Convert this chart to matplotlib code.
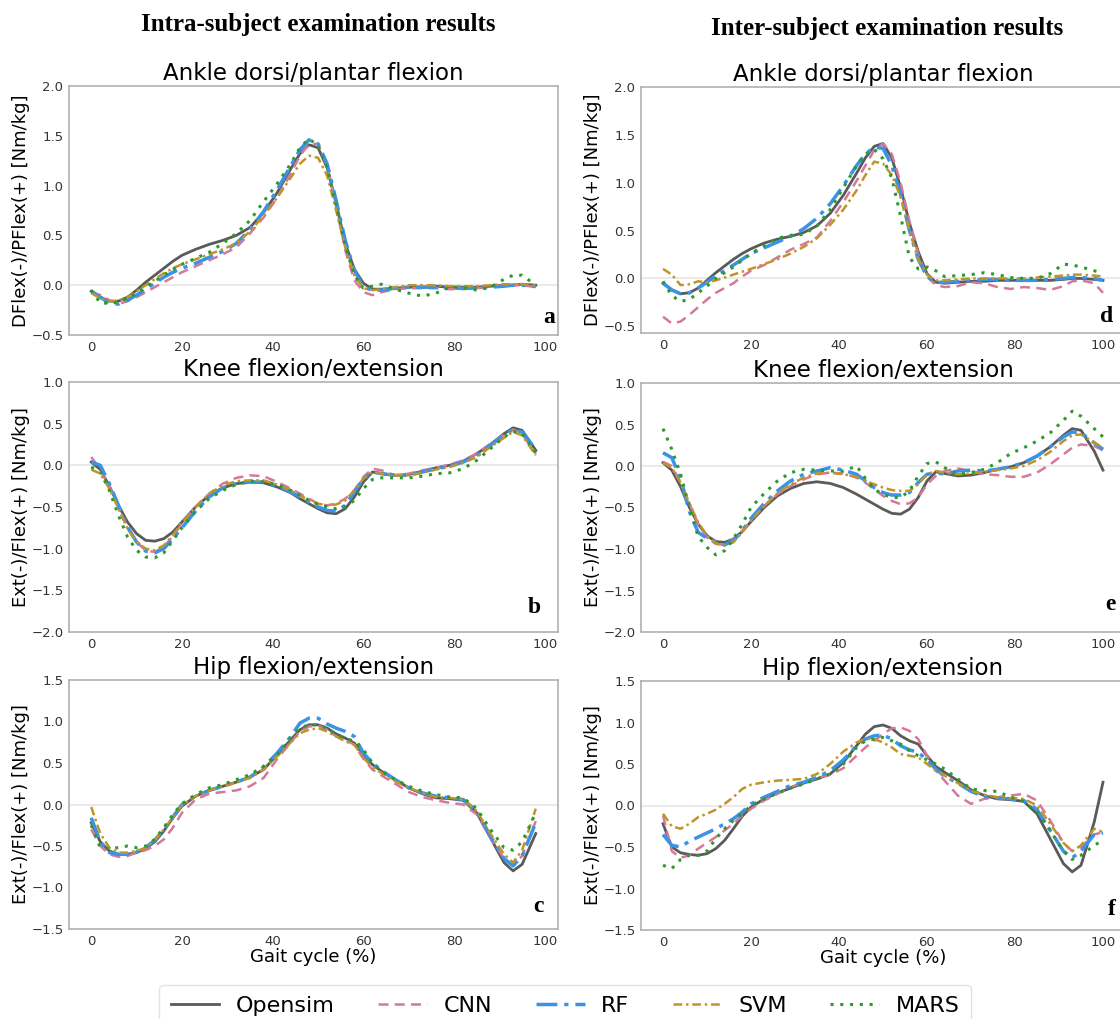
import matplotlib.pyplot as plt
import numpy as np

# Gait cycle samples (%)
x_intra = [0, 2, 4, 6, 8, 10, 12, 14, 16, 18, 20, 23, 26, 29, 32, 35, 38, 41, 44, 46,
           48, 50, 52, 54, 56, 58, 60, 62, 64, 67, 70, 73, 76, 79, 82, 85, 88, 91, 93, 95, 98]
x_inter = x_intra + [100]

methods = ["Opensim", "CNN", "RF", "SVM", "MARS"]

# ---- Intra-subject: ankle ----
ankle_intra = {
    "Opensim": [-0.06, -0.12, -0.16, -0.16, -0.12, -0.05, 0.03, 0.10, 0.17, 0.24, 0.30, 0.36, 0.41, 0.45, 0.50,
                0.58, 0.73, 0.93, 1.17, 1.32, 1.41, 1.38, 1.18, 0.82, 0.42, 0.16, 0.02, -0.04, -0.04, -0.03,
                -0.02, -0.02, -0.01, -0.02, -0.02, -0.02, -0.01, 0.00, 0.00, 0.01, 0.00],
    "CNN": [-0.07, -0.10, -0.15, -0.19, -0.16, -0.12, -0.07, -0.02, 0.03, 0.08, 0.13, 0.19, 0.25, 0.31, 0.38,
            0.52, 0.68, 0.88, 1.12, 1.30, 1.42, 1.42, 1.20, 0.80, 0.35, 0.05, -0.07, -0.10, -0.07, -0.04,
            -0.03, -0.03, -0.03, -0.04, -0.04, -0.03, -0.02, 0.00, 0.00, 0.00, -0.02],
    "RF": [-0.06, -0.12, -0.18, -0.19, -0.15, -0.10, -0.04, 0.02, 0.08, 0.13, 0.17, 0.22, 0.28, 0.34, 0.42,
           0.56, 0.74, 0.96, 1.20, 1.36, 1.46, 1.42, 1.22, 0.85, 0.45, 0.15, -0.02, -0.05, -0.05, -0.03,
           -0.02, -0.02, -0.02, -0.03, -0.03, -0.03, -0.02, -0.01, 0.00, 0.00, -0.01],
    "SVM": [-0.08, -0.13, -0.16, -0.16, -0.12, -0.06, 0.00, 0.06, 0.12, 0.17, 0.21, 0.26, 0.31, 0.36, 0.42,
            0.54, 0.70, 0.88, 1.08, 1.22, 1.30, 1.28, 1.10, 0.75, 0.38, 0.10, -0.03, -0.05, -0.04, -0.02,
            0.00, 0.00, 0.00, -0.01, -0.01, -0.01, 0.00, 0.01, 0.01, 0.01, 0.00],
    "MARS": [-0.05, -0.18, -0.18, -0.17, -0.13, -0.08, -0.02, 0.04, 0.10, 0.16, 0.21, 0.27, 0.33, 0.42, 0.52,
             0.65, 0.84, 1.02, 1.22, 1.38, 1.47, 1.40, 1.18, 0.80, 0.40, 0.10, -0.03, -0.01, 0.01, -0.04,
             -0.08, -0.11, -0.08, -0.02, -0.02, -0.05, -0.02, 0.06, 0.10, 0.10, 0.00],
}

# ---- Intra-subject: knee ----
knee_intra = {
    "Opensim": [0.04, -0.05, -0.25, -0.48, -0.68, -0.82, -0.90, -0.91, -0.88, -0.80, -0.68, -0.50, -0.36, -0.27,
                -0.22, -0.20, -0.21, -0.26, -0.33, -0.40, -0.46, -0.52, -0.57, -0.58, -0.52, -0.38, -0.20, -0.08,
                -0.10, -0.12, -0.11, -0.07, -0.03, 0.00, 0.05, 0.14, 0.25, 0.38, 0.45, 0.42, 0.18],
    "CNN": [0.10, -0.05, -0.25, -0.50, -0.75, -0.92, -1.02, -1.04, -0.98, -0.85, -0.70, -0.50, -0.34, -0.22,
            -0.15, -0.12, -0.13, -0.20, -0.28, -0.34, -0.40, -0.46, -0.48, -0.46, -0.40, -0.30, -0.14, -0.04,
            -0.06, -0.12, -0.10, -0.06, -0.03, 0.01, 0.06, 0.14, 0.26, 0.37, 0.43, 0.38, 0.14],
    "RF": [0.04, 0.00, -0.22, -0.48, -0.74, -0.92, -1.03, -1.05, -1.00, -0.88, -0.75, -0.55, -0.38, -0.27,
           -0.22, -0.20, -0.20, -0.25, -0.32, -0.38, -0.44, -0.50, -0.54, -0.55, -0.48, -0.32, -0.16, -0.08,
           -0.10, -0.12, -0.12, -0.08, -0.04, -0.01, 0.04, 0.12, 0.24, 0.36, 0.43, 0.40, 0.19],
    "SVM": [-0.05, -0.10, -0.28, -0.52, -0.76, -0.92, -1.00, -1.02, -0.96, -0.84, -0.68, -0.50, -0.34, -0.24,
            -0.19, -0.18, -0.18, -0.23, -0.30, -0.36, -0.42, -0.46, -0.48, -0.47, -0.42, -0.30, -0.16, -0.08,
            -0.10, -0.12, -0.12, -0.09, -0.05, -0.02, 0.03, 0.10, 0.22, 0.33, 0.40, 0.36, 0.12],
    "MARS": [-0.02, -0.08, -0.30, -0.60, -0.86, -1.02, -1.10, -1.11, -1.05, -0.90, -0.75, -0.55, -0.40, -0.30,
             -0.23, -0.19, -0.20, -0.23, -0.30, -0.36, -0.42, -0.47, -0.50, -0.52, -0.50, -0.42, -0.28, -0.17,
             -0.15, -0.15, -0.15, -0.13, -0.10, -0.09, -0.04, 0.06, 0.20, 0.34, 0.41, 0.38, 0.15],
}

# ---- Intra-subject: hip ----
hip_intra = {
    "Opensim": [-0.22, -0.45, -0.56, -0.60, -0.60, -0.58, -0.53, -0.45, -0.32, -0.16, -0.02, 0.10, 0.17, 0.22,
                0.27, 0.33, 0.42, 0.60, 0.78, 0.90, 0.96, 0.96, 0.92, 0.85, 0.80, 0.74, 0.60, 0.48, 0.40, 0.30,
                0.20, 0.13, 0.08, 0.07, 0.05, -0.10, -0.40, -0.70, -0.80, -0.72, -0.35],
    "CNN": [-0.30, -0.50, -0.60, -0.63, -0.62, -0.58, -0.55, -0.50, -0.42, -0.28, -0.10, 0.06, 0.13, 0.15,
            0.17, 0.22, 0.32, 0.55, 0.75, 0.88, 0.94, 0.95, 0.90, 0.82, 0.78, 0.72, 0.55, 0.42, 0.35, 0.25,
            0.15, 0.09, 0.05, 0.02, 0.00, -0.12, -0.40, -0.65, -0.73, -0.62, -0.20],
    "RF": [-0.16, -0.45, -0.58, -0.60, -0.60, -0.57, -0.52, -0.43, -0.30, -0.15, 0.00, 0.10, 0.17, 0.22,
           0.27, 0.33, 0.45, 0.62, 0.82, 0.98, 1.04, 1.04, 0.97, 0.92, 0.88, 0.82, 0.62, 0.50, 0.41, 0.30,
           0.20, 0.14, 0.10, 0.08, 0.06, -0.08, -0.38, -0.65, -0.74, -0.62, -0.22],
    "SVM": [-0.03, -0.35, -0.52, -0.58, -0.58, -0.56, -0.52, -0.43, -0.30, -0.15, -0.01, 0.10, 0.17, 0.22,
            0.27, 0.32, 0.42, 0.58, 0.75, 0.86, 0.90, 0.92, 0.88, 0.82, 0.76, 0.72, 0.56, 0.45, 0.38, 0.28,
            0.20, 0.14, 0.09, 0.08, 0.06, -0.08, -0.35, -0.60, -0.70, -0.55, -0.05],
    "MARS": [-0.25, -0.52, -0.53, -0.52, -0.50, -0.52, -0.50, -0.42, -0.28, -0.12, 0.01, 0.12, 0.20, 0.24,
             0.30, 0.36, 0.46, 0.60, 0.80, 0.92, 0.96, 0.96, 0.92, 0.84, 0.80, 0.76, 0.66, 0.50, 0.40, 0.30,
             0.22, 0.16, 0.12, 0.09, 0.08, -0.05, -0.30, -0.52, -0.55, -0.45, -0.10],
}

# ---- Inter-subject: ankle ----
ankle_inter = {
    "Opensim": [-0.05, -0.12, -0.16, -0.15, -0.10, -0.02, 0.06, 0.13, 0.20, 0.26, 0.31, 0.37, 0.41, 0.44, 0.48,
                0.55, 0.68, 0.87, 1.10, 1.26, 1.38, 1.41, 1.26, 0.95, 0.58, 0.28, 0.05, -0.04, -0.05, -0.04,
                -0.03, -0.03, -0.02, -0.02, -0.02, -0.02, -0.02, -0.01, 0.00, 0.00, -0.01, -0.02],
    "CNN": [-0.40, -0.47, -0.45, -0.38, -0.30, -0.22, -0.15, -0.10, -0.05, 0.02, 0.08, 0.14, 0.22, 0.30, 0.36,
            0.43, 0.60, 0.80, 1.02, 1.18, 1.34, 1.41, 1.30, 1.00, 0.60, 0.25, 0.02, -0.07, -0.09, -0.08,
            -0.04, -0.05, -0.09, -0.11, -0.09, -0.10, -0.12, -0.08, -0.03, -0.02, -0.05, -0.15],
    "RF": [-0.05, -0.12, -0.16, -0.15, -0.10, -0.04, 0.03, 0.08, 0.14, 0.20, 0.26, 0.32, 0.38, 0.44, 0.52,
           0.63, 0.78, 0.97, 1.18, 1.30, 1.37, 1.36, 1.18, 0.88, 0.50, 0.20, 0.02, -0.04, -0.04, -0.03,
           -0.02, -0.01, -0.01, -0.02, -0.02, -0.02, -0.01, 0.00, 0.01, 0.01, 0.00, -0.02],
    "SVM": [0.10, 0.04, -0.07, -0.06, -0.03, -0.04, -0.02, 0.01, 0.04, 0.07, 0.10, 0.15, 0.20, 0.26, 0.33,
            0.42, 0.56, 0.72, 0.92, 1.08, 1.22, 1.20, 1.08, 0.85, 0.50, 0.20, 0.04, -0.02, -0.02, -0.01,
            0.00, 0.00, 0.00, 0.00, 0.00, 0.01, 0.02, 0.03, 0.04, 0.04, 0.03, 0.02],
    "MARS": [-0.03, -0.18, -0.24, -0.22, -0.15, -0.08, 0.00, 0.06, 0.12, 0.19, 0.26, 0.34, 0.42, 0.45, 0.46,
             0.55, 0.72, 0.95, 1.18, 1.30, 1.35, 1.25, 1.05, 0.65, 0.22, 0.10, 0.12, 0.08, 0.02, 0.03,
             0.04, 0.06, 0.04, 0.01, 0.00, 0.00, 0.05, 0.15, 0.14, 0.12, 0.08, 0.06],
}

# ---- Inter-subject: knee ----
knee_inter = {
    "Opensim": [0.04, -0.05, -0.25, -0.50, -0.70, -0.84, -0.91, -0.92, -0.88, -0.79, -0.67, -0.50, -0.36, -0.27,
                -0.21, -0.19, -0.21, -0.26, -0.34, -0.40, -0.46, -0.52, -0.57, -0.58, -0.52, -0.38, -0.18, -0.07,
                -0.09, -0.12, -0.11, -0.08, -0.04, -0.01, 0.04, 0.12, 0.23, 0.37, 0.45, 0.43, 0.18, -0.05],
    "CNN": [0.05, 0.00, -0.20, -0.45, -0.70, -0.86, -0.94, -0.95, -0.88, -0.78, -0.65, -0.48, -0.34, -0.24,
            -0.16, -0.10, -0.08, -0.09, -0.14, -0.20, -0.28, -0.36, -0.42, -0.46, -0.45, -0.38, -0.22, -0.12,
            -0.06, -0.03, -0.06, -0.10, -0.11, -0.13, -0.13, -0.08, 0.02, 0.14, 0.22, 0.26, 0.24, 0.19],
    "RF": [0.16, 0.10, -0.15, -0.55, -0.80, -0.87, -0.92, -0.95, -0.90, -0.78, -0.63, -0.45, -0.30, -0.18,
           -0.10, -0.06, -0.02, -0.05, -0.10, -0.18, -0.26, -0.32, -0.35, -0.35, -0.32, -0.20, -0.10, -0.08,
           -0.10, -0.06, -0.05, -0.06, -0.04, -0.01, 0.04, 0.12, 0.23, 0.35, 0.41, 0.40, 0.28, 0.20],
    "SVM": [0.04, -0.02, -0.20, -0.45, -0.68, -0.84, -0.93, -0.96, -0.92, -0.80, -0.66, -0.48, -0.33, -0.22,
            -0.14, -0.09, -0.08, -0.10, -0.13, -0.18, -0.22, -0.26, -0.29, -0.30, -0.30, -0.22, -0.10, -0.06,
            -0.08, -0.10, -0.09, -0.07, -0.05, -0.03, 0.00, 0.07, 0.17, 0.30, 0.37, 0.38, 0.28, 0.22],
    "MARS": [0.45, 0.20, -0.10, -0.50, -0.85, -0.98, -1.07, -1.02, -0.88, -0.70, -0.50, -0.33, -0.18, -0.08,
             -0.04, -0.05, -0.06, -0.06, 0.00, -0.15, -0.28, -0.34, -0.38, -0.38, -0.30, -0.12, 0.03, 0.05,
             -0.02, -0.10, -0.08, -0.04, 0.04, 0.15, 0.22, 0.30, 0.40, 0.55, 0.66, 0.60, 0.45, 0.35],
}

# ---- Inter-subject: hip ----
hip_inter = {
    "Opensim": [-0.22, -0.50, -0.57, -0.59, -0.60, -0.58, -0.52, -0.42, -0.28, -0.13, -0.02, 0.08, 0.15, 0.21,
                0.27, 0.32, 0.38, 0.52, 0.72, 0.86, 0.95, 0.97, 0.93, 0.84, 0.78, 0.74, 0.60, 0.47, 0.40, 0.30,
                0.19, 0.12, 0.08, 0.07, 0.05, -0.10, -0.40, -0.70, -0.80, -0.72, -0.20, 0.28],
    "CNN": [-0.12, -0.55, -0.63, -0.60, -0.52, -0.45, -0.38, -0.30, -0.22, -0.12, -0.04, 0.06, 0.14, 0.22,
            0.28, 0.33, 0.37, 0.45, 0.60, 0.70, 0.78, 0.86, 0.93, 0.94, 0.90, 0.80, 0.60, 0.42, 0.30, 0.12,
            0.02, 0.08, 0.10, 0.12, 0.14, 0.06, -0.18, -0.45, -0.55, -0.50, -0.35, -0.32],
    "RF": [-0.35, -0.48, -0.50, -0.43, -0.38, -0.33, -0.28, -0.22, -0.16, -0.08, 0.02, 0.10, 0.17, 0.24,
           0.28, 0.34, 0.42, 0.55, 0.72, 0.80, 0.84, 0.85, 0.80, 0.72, 0.67, 0.64, 0.55, 0.44, 0.35, 0.27,
           0.17, 0.11, 0.09, 0.08, 0.06, -0.05, -0.30, -0.55, -0.63, -0.55, -0.35, -0.33],
    "SVM": [-0.10, -0.25, -0.28, -0.22, -0.14, -0.10, -0.05, 0.02, 0.10, 0.20, 0.25, 0.28, 0.30, 0.31,
            0.32, 0.38, 0.50, 0.65, 0.76, 0.80, 0.80, 0.76, 0.70, 0.62, 0.60, 0.58, 0.50, 0.42, 0.36, 0.27,
            0.18, 0.13, 0.10, 0.09, 0.08, 0.00, -0.22, -0.45, -0.55, -0.48, -0.28, -0.32],
    "MARS": [-0.72, -0.76, -0.65, -0.60, -0.60, -0.55, -0.40, -0.28, -0.18, -0.10, 0.00, 0.08, 0.15, 0.21,
             0.26, 0.32, 0.38, 0.50, 0.70, 0.78, 0.80, 0.82, 0.78, 0.74, 0.66, 0.60, 0.55, 0.50, 0.44, 0.32,
             0.20, 0.18, 0.17, 0.10, 0.05, -0.08, -0.30, -0.55, -0.65, -0.60, -0.48, -0.42],
}

styles = {
    "Opensim": dict(color="#5a5a5a", linestyle="-", linewidth=2.0),
    "CNN": dict(color="#d6789a", linestyle=(0, (4, 2.5)), linewidth=1.8),
    "RF": dict(color="#3a93e6", linestyle=(0, (6, 2, 1.2, 2)), linewidth=2.5),
    "SVM": dict(color="#c09528", linestyle=(0, (3.5, 1.5, 1, 1.5)), linewidth=1.8),
    "MARS": dict(color="#2c9a2c", linestyle=(0, (1, 2.2)), linewidth=2.2),
}

W, H = 1120, 1019
fig = plt.figure(figsize=(W / 100, H / 100), dpi=100)


def px_axes(left, right, top, bottom):
    return fig.add_axes([left / W, 1 - bottom / H, (right - left) / W, (bottom - top) / H])


panels = [
    # data, x, rect(left, right, top, bottom), title, ylabel, ylim, yticks, letter, letter pos
    (ankle_intra, x_intra, (69, 558, 86, 335), "Ankle dorsi/plantar flexion", "DFlex(-)/PFlex(+) [Nm/kg]",
     (-0.5, 2.0), np.arange(-0.5, 2.01, 0.5), "a", (0.995, 0.03)),
    (knee_intra, x_intra, (69, 558, 382, 632), "Knee flexion/extension", "Ext(-)/Flex(+) [Nm/kg]",
     (-2.0, 1.0), np.arange(-2.0, 1.01, 0.5), "b", (0.965, 0.055)),
    (hip_intra, x_intra, (69, 558, 680, 929), "Hip flexion/extension", "Ext(-)/Flex(+) [Nm/kg]",
     (-1.5, 1.5), np.arange(-1.5, 1.51, 0.5), "c", (0.97, 0.05)),
    (ankle_inter, x_inter, (641, 1125, 87, 333), "Ankle dorsi/plantar flexion", "DFlex(-)/PFlex(+) [Nm/kg]",
     (-0.57, 2.0), np.arange(-0.5, 2.01, 0.5), "d", (0.975, 0.025)),
    (knee_inter, x_inter, (641, 1125, 383, 632), "Knee flexion/extension", "Ext(-)/Flex(+) [Nm/kg]",
     (-2.0, 1.0), np.arange(-2.0, 1.01, 0.5), "e", (0.98, 0.07)),
    (hip_inter, x_inter, (641, 1125, 681, 930), "Hip flexion/extension", "Ext(-)/Flex(+) [Nm/kg]",
     (-1.5, 1.5), np.arange(-1.5, 1.51, 0.5), "f", (0.98, 0.04)),
]

handles = []
for i, (data, xs, rect, title, ylab, ylim, yt, letter, lpos) in enumerate(panels):
    ax = px_axes(*rect)
    ax.axhline(0, color="#e6e6e6", linewidth=1.2, zorder=0)
    for m in methods:
        ln, = ax.plot(xs, data[m], label=m, **styles[m])
        if i == 0:
            handles.append(ln)
    ax.set_ylim(*ylim)
    ax.set_yticks(yt)
    ax.set_xticks([0, 20, 40, 60, 80, 100])
    ax.set_title(title, fontsize=16.5, pad=4)
    ax.set_ylabel(ylab, fontsize=13, labelpad=1)
    if "Hip" in title:
        ax.set_xlabel("Gait cycle (%)", fontsize=13, labelpad=0)
    for s in ax.spines.values():
        s.set_color("#b0b0b0")
        s.set_linewidth(1.2)
    ax.tick_params(colors="#333333", labelsize=9.5, length=0, pad=4)
    ax.text(lpos[0], lpos[1], letter, transform=ax.transAxes, ha="right", va="bottom",
            fontsize=17, fontweight="bold", family="Liberation Serif")

fig.text(318 / W, 1 - 25 / H, "Intra-subject examination results", ha="center", va="center",
         fontsize=18, fontweight="bold", family="Liberation Serif")
fig.text(887 / W, 1 - 28 / H, "Inter-subject examination results", ha="center", va="center",
         fontsize=18, fontweight="bold", family="Liberation Serif")

fig.legend(handles, methods, loc="upper center", bbox_to_anchor=(565 / W, 1 - 985 / H), ncol=5,
           fontsize=16, handlelength=2.2, columnspacing=1.95, handletextpad=0.75, frameon=True,
           edgecolor="#dddddd", borderpad=0.5, borderaxespad=0)

fig.savefig("out.png", dpi=100)
